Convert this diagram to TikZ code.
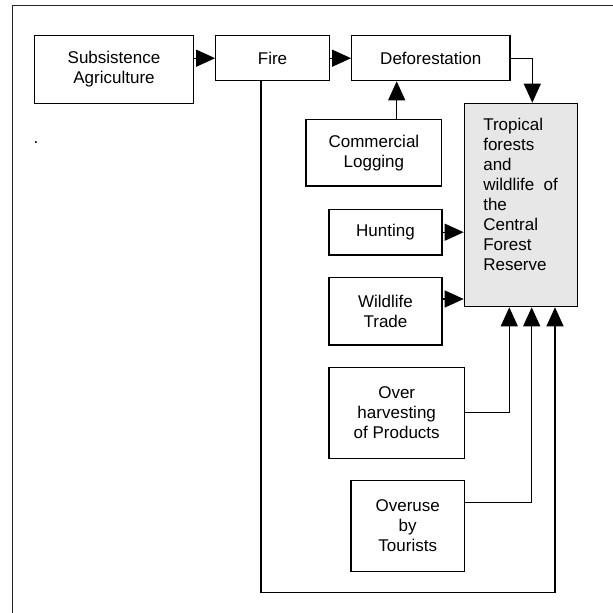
\documentclass[tikz,border=0pt]{standalone}
\usepackage{fontspec}
\setmainfont{Liberation Sans}
\usetikzlibrary{arrows.meta}
\definecolor{targetgray}{RGB}{231,231,231}
\begin{document}
\begin{tikzpicture}[x=1pt,y=-1pt,
  every node/.style={font=\fontsize{17}{20}\selectfont},
  boxnode/.style={draw, line width=1.2pt, align=center, inner sep=0pt},
  conn/.style={line width=1.2pt},
  arr/.style={conn, -{Triangle[length=19pt,width=17pt]}},
  framestyle/.style={line width=1.3pt, draw=black!85}]
\useasboundingbox (0,0) rectangle (613,613);
% page frame
\coordinate (ftl) at (12.3,5.7);
\coordinate (ftr) at (613,5.7);
\coordinate (fbl) at (12.3,613);
\draw[framestyle] (ftr) -- (ftl) -- (fbl);
% nodes
\node[boxnode, minimum width=158.6pt, minimum height=67.6pt] (sa) at (114,69.5) {Subsistence\\Agriculture};
\node[boxnode, minimum width=113.6pt, minimum height=45pt] (fire) at (272.5,58.2) {Fire};
\node[boxnode, minimum width=158.3pt, minimum height=45pt] (def) at (430.8,58.2) {Deforestation};
\node[boxnode, minimum width=135.8pt, minimum height=66.7pt] (cl) at (373.9,152.7) {Commercial\\Logging};
\node[boxnode, fill=targetgray] (target) at (520.8,205)
  {\parbox[c][203.4pt][t]{113pt}{\raggedright\leftskip=19pt\rule{0pt}{26.7pt}Tropical\\forests\\and\\wildlife\ \ of\\the\\Central\\Forest\\Reserve}};
\node[boxnode, minimum width=113pt, minimum height=45.7pt] (hunt) at (385.5,232.2) {Hunting};
\node[boxnode, minimum width=113pt, minimum height=67.7pt] (wt) at (385.5,311.2) {Wildlife\\Trade};
\node[boxnode, minimum width=135.3pt, minimum height=91pt] (oh) at (396.7,412.8) {Over\\harvesting\\of Products};
\node[boxnode, minimum width=113.3pt, minimum height=91pt] (ou) at (407.7,525.8) {Overuse\\by\\Tourists};
\node[anchor=base, inner sep=0pt] (dot) at (36,143) {.};
% bend points
\coordinate (cdef) at (532.3,58.2);
\coordinate (clx) at (396.7,119.3);
\coordinate (wty) at (442,299);
\coordinate (ohx) at (509.3,412.8);
\coordinate (oux) at (531.7,502.7);
\coordinate (oustart) at (464.3,502.7);
\coordinate (firex) at (261,80.7);
\coordinate (fireb) at (261,592.7);
\coordinate (firer) at (555,592.7);
% connectors
\draw[arr] (sa.east |- fire.west) -- (fire.west);
\draw[arr] (fire.east) -- (def.west);
\draw[arr] (def.east) -- (cdef) -- (cdef |- target.north);
\draw[arr] (clx) -- (clx |- def.south);
\draw[arr] (hunt.east) -- (hunt.east -| target.west);
\draw[arr] (wty) -- (wty -| target.west);
\draw[arr] (oh.east) -- (ohx) -- (ohx |- target.south);
\draw[arr] (oustart) -- (oux) -- (oux |- target.south);
\draw[arr] (firex) -- (fireb) -- (firer) -- (firer |- target.south);
\end{tikzpicture}
\end{document}
